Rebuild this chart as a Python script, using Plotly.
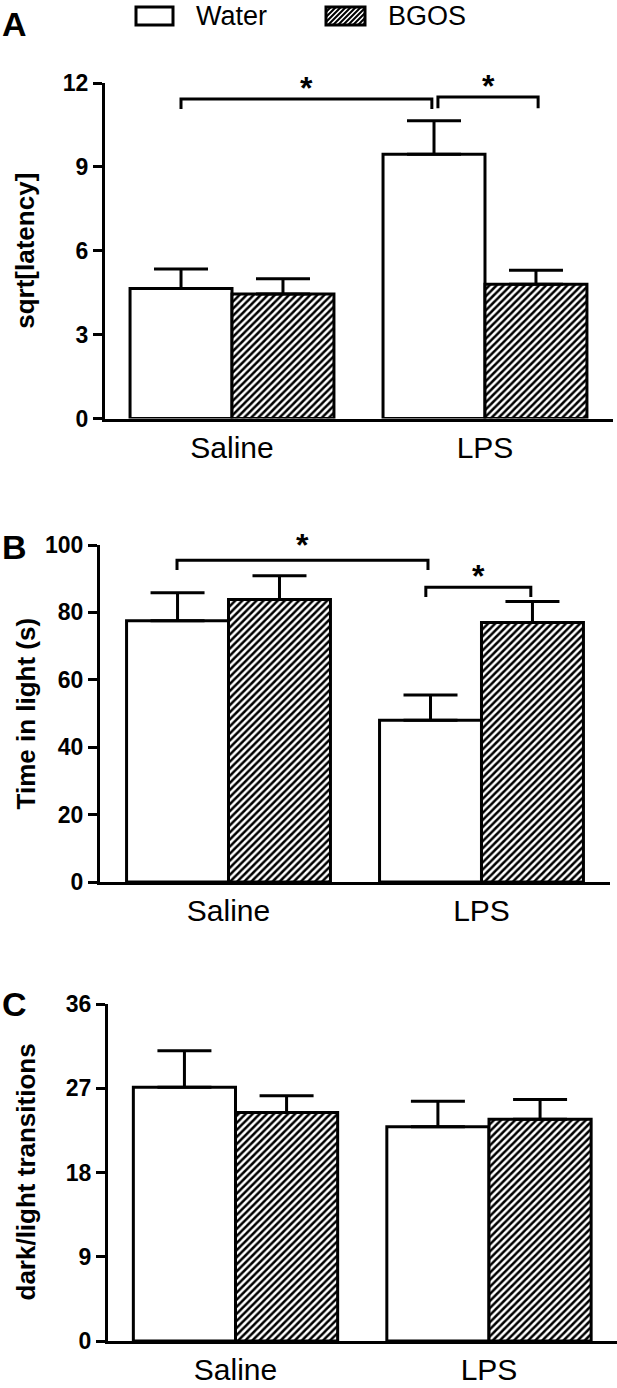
import plotly.graph_objects as go

# ---------------- data ----------------
groups = ["Saline", "LPS"]
series = ["Water", "BGOS"]

a_water = [4.65, 9.45]
a_water_sem = [0.70, 1.20]
a_bgos = [4.45, 4.80]
a_bgos_sem = [0.55, 0.50]

b_water = [77.5, 48.0]
b_water_sem = [8.3, 7.5]
b_bgos = [83.8, 77.0]
b_bgos_sem = [7.1, 6.2]

c_water = [27.1, 22.9]
c_water_sem = [3.9, 2.7]
c_bgos = [24.4, 23.7]
c_bgos_sem = [1.8, 2.1]

a_ticks = [0, 3, 6, 9, 12]
b_ticks = [0, 20, 40, 60, 80, 100]
c_ticks = [0, 9, 18, 27, 36]

titles = ["sqrt[latency]", "Time in light (s)", "dark/light transitions"]
letters = ["A", "B", "C"]

# ---------------- layout helpers ----------------
W, H = 617, 1388
FONT = "Liberation Sans, Arial, sans-serif"


def px_x(p):
    return p / W


def px_y(p):
    return 1 - p / H


panels = [
    dict(water=a_water, wsem=a_water_sem, bgos=a_bgos, bsem=a_bgos_sem,
         ticks=a_ticks, rng=[0, 12], xdom=(105, 613), ydom=(83, 418.5)),
    dict(water=b_water, wsem=b_water_sem, bgos=b_bgos, bsem=b_bgos_sem,
         ticks=b_ticks, rng=[0, 100], xdom=(100, 610), ydom=(545, 882)),
    dict(water=c_water, wsem=c_water_sem, bgos=c_bgos, bsem=c_bgos_sem,
         ticks=c_ticks, rng=[0, 36], xdom=(108, 617), ydom=(1004, 1341)),
]
xranges = [[-0.502, 1.506], [-0.508, 1.508], [-0.503, 1.505]]

fig = go.Figure()
layout = dict(
    template="none",
    width=W, height=H, margin=dict(l=0, r=0, t=0, b=0, autoexpand=False),
    paper_bgcolor="white", plot_bgcolor="white",
    barmode="group", bargap=0.194, bargroupgap=0,
    showlegend=False,
    font=dict(family=FONT, color="black"),
)
annotations = []
shapes = []

xpos = [0, 1]
for i, p in enumerate(panels):
    sfx = "" if i == 0 else str(i + 1)
    xa, ya = "x" + sfx, "y" + sfx
    err_common = dict(type="data", symmetric=False, color="black",
                      thickness=3, width=27)
    fig.add_trace(go.Bar(
        x=xpos, y=p["water"], name=series[0], xaxis=xa, yaxis=ya,
        marker=dict(color="white", line=dict(color="black", width=3)),
        error_y=dict(array=p["wsem"], arrayminus=[0, 0], **err_common),
    ))
    fig.add_trace(go.Bar(
        x=xpos, y=p["bgos"], name=series[1], xaxis=xa, yaxis=ya,
        marker=dict(color="white", line=dict(color="black", width=3),
                    pattern=dict(shape="/", fgcolor="black", bgcolor="white",
                                 size=5, solidity=0.5)),
        error_y=dict(array=p["bsem"], arrayminus=[0, 0], **err_common),
    ))
    layout["xaxis" + sfx] = dict(
        domain=[px_x(p["xdom"][0]), px_x(p["xdom"][1])],
        range=xranges[i], anchor=ya, automargin=False,
        showline=True, linewidth=3, linecolor="black",
        ticks="", tickvals=xpos, ticktext=groups,
        tickfont=dict(family=FONT, size=30, color="black"),
        showgrid=False, zeroline=False, fixedrange=True,
    )
    layout["yaxis" + sfx] = dict(
        domain=[px_y(p["ydom"][1]), px_y(p["ydom"][0])],
        range=p["rng"], anchor=xa, automargin=False,
        showline=True, linewidth=3, linecolor="black",
        ticks="outside", ticklen=9, tickwidth=3, tickcolor="black",
        tickvals=p["ticks"],
        tickfont=dict(family=FONT, size=23, color="black", weight="bold"),
        showgrid=False, zeroline=False, fixedrange=True,
    )
    # y-axis title
    annotations.append(dict(
        text=titles[i], xref="paper", yref="paper",
        x=px_x(25), y=px_y((p["ydom"][0] + p["ydom"][1]) / 2),
        xanchor="center", yanchor="middle", textangle=-90, showarrow=False,
        font=dict(family=FONT, size=26, color="black", weight="bold"),
    ))

# panel letters
for letter, py in zip(letters, [24, 547, 1004]):
    annotations.append(dict(
        text=letter, xref="paper", yref="paper", x=0, y=px_y(py),
        xanchor="left", yanchor="middle", showarrow=False,
        font=dict(family=FONT, size=34, color="black", weight="bold"),
    ))

# significance brackets: (xref, yref, x0, x1, y_top, y_bottom, star pixel y)
brackets = [
    ("x", "y", -0.2016, 0.790, 11.43, 11.07, 88),
    ("x", "y", 0.814, 1.210, 11.50, 11.10, 86),
    ("x2", "y2", -0.2036, 0.7885, 95.5, 92.6, 545),
    ("x2", "y2", 0.780, 1.195, 87.5, 84.6, 576),
]
for xr, yr, x0, x1, yt, yb, ys in brackets:
    shapes.append(dict(
        type="path", xref=xr, yref=yr,
        path=f"M {x0},{yb} L {x0},{yt} L {x1},{yt} L {x1},{yb}",
        line=dict(color="black", width=3),
    ))
    annotations.append(dict(
        text="*", xref=xr, yref="paper", x=(x0 + x1) / 2, y=px_y(ys),
        xanchor="center", yanchor="middle", showarrow=False,
        font=dict(family=FONT, size=32, color="black", weight="bold"),
    ))

# custom legend
lx = [(136, 173), (326, 365)]
ly = (7, 25)
for j, (x0, x1) in enumerate(lx):
    shapes.append(dict(
        type="rect", xref="paper", yref="paper",
        x0=px_x(x0), x1=px_x(x1), y0=px_y(ly[1]), y1=px_y(ly[0]),
        fillcolor="white", line=dict(color="black", width=3),
    ))
    annotations.append(dict(
        text=series[j], xref="paper", yref="paper",
        x=px_x(x1 + 21), y=px_y(16), xanchor="left", yanchor="middle",
        showarrow=False, font=dict(family=FONT, size=27, color="black"),
    ))
# hatch inside the BGOS legend box
x0, x1 = lx[1]
h = ly[1] - ly[0]
segs = []
s = x0 - h
while s < x1:
    tmin = max(0.0, (x0 - s) / h)
    tmax = min(1.0, (x1 - s) / h)
    if tmin < tmax:
        ax_, ay_ = s + tmin * h, ly[1] - tmin * h
        bx_, by_ = s + tmax * h, ly[1] - tmax * h
        segs.append(f"M {px_x(ax_)},{px_y(ay_)} L {px_x(bx_)},{px_y(by_)}")
    s += 5
shapes.append(dict(type="path", xref="paper", yref="paper",
                   path=" ".join(segs), line=dict(color="black", width=2)))

layout["annotations"] = annotations
layout["shapes"] = shapes
fig.update_layout(**layout)
fig.write_html(
    "out.html",
    config={"displayModeBar": False},
    post_script="document.body.style.margin='0';"
                "document.body.style.overflow='hidden';",
)
